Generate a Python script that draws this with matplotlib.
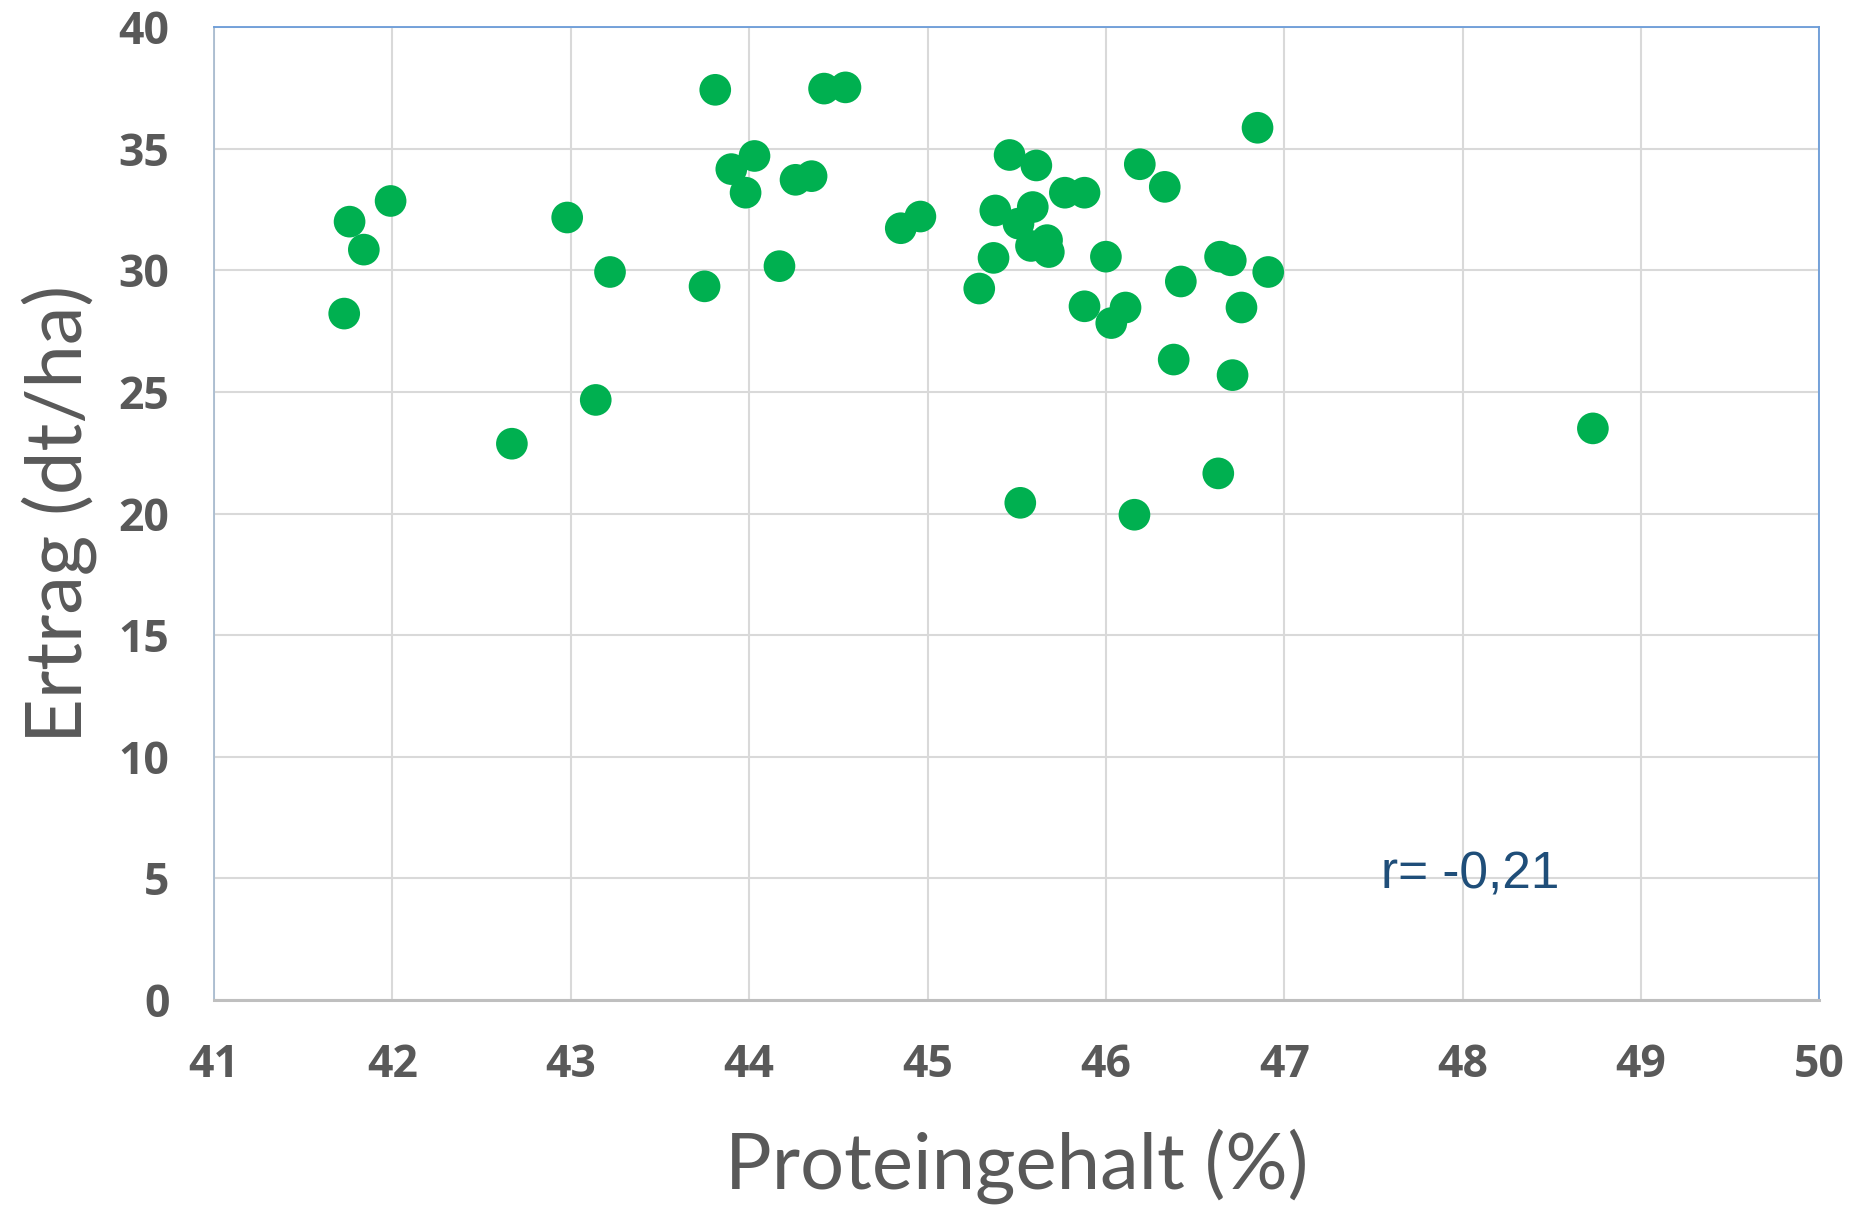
import matplotlib.pyplot as plt

# Proteingehalt (%) und Ertrag (dt/ha)
protein = [41.73, 41.76, 41.84, 41.99, 42.67, 42.98, 43.14, 43.22, 43.75, 43.81,
           43.90, 43.98, 44.03, 44.17, 44.26, 44.35, 44.42, 44.54, 44.85, 44.96,
           45.29, 45.37, 45.38, 45.46, 45.52, 45.51, 45.59, 45.58, 45.61, 45.67,
           45.68, 45.77, 45.88, 45.88, 46.00, 46.03, 46.11, 46.16, 46.19, 46.33,
           46.38, 46.42, 46.63, 46.64, 46.70, 46.71, 46.76, 46.85, 46.91, 48.73]
ertrag = [28.22, 32.00, 30.85, 32.85, 22.87, 32.17, 24.67, 29.93, 29.34, 37.42,
          34.16, 33.19, 34.70, 30.17, 33.72, 33.87, 37.47, 37.52, 31.73, 32.21,
          29.25, 30.51, 32.46, 34.74, 20.44, 31.92, 32.60, 31.00, 34.31, 31.24,
          30.75, 33.19, 33.19, 28.52, 30.56, 27.83, 28.47, 19.95, 34.36, 33.43,
          26.33, 29.54, 21.65, 30.56, 30.41, 25.69, 28.47, 35.86, 29.93, 23.50]

x_ticks = list(range(41, 51))
y_ticks = list(range(0, 41, 5))
r_text = 'r= -0,21'

fig = plt.figure(figsize=(18.56, 12.08), dpi=100)
ax = fig.add_axes([0.1153, 0.1722, 0.865, 0.8054])

ax.scatter(protein, ertrag, s=520, color='#00B050', edgecolors='none', zorder=3)

ax.set_xlim(41, 50)
ax.set_ylim(0, 40)
ax.set_xticks(x_ticks)
ax.set_yticks(y_ticks)
ax.grid(True, color='#D9D9D9', linewidth=1.5, zorder=0)
ax.set_axisbelow(True)

for lab in ax.get_xticklabels() + ax.get_yticklabels():
    lab.set_fontfamily('Open Sans')
    lab.set_fontweight('bold')
    lab.set_fontsize(32)
    lab.set_color('#595959')
ax.tick_params(axis='both', length=0)
ax.tick_params(axis='y', pad=32)
ax.tick_params(axis='x', pad=31)

ax.spines['top'].set_color('#6A9BD8')
ax.spines['right'].set_color('#6A9BD8')
ax.spines['left'].set_color('#A9BCD0')
ax.spines['bottom'].set_color('#BFBFBF')
ax.spines['bottom'].set_linewidth(2.2)
for s in ['top', 'right', 'left']:
    ax.spines[s].set_linewidth(1.3)

ax.set_ylabel('Ertrag (dt/ha)', fontfamily='Lato', fontsize=56, color='#595959', va='center')
ax.yaxis.set_label_coords(-0.0966, 0.5)
ax.set_xlabel('Proteingehalt (%)', fontfamily='Lato', fontsize=56, color='#595959', va='center')
ax.xaxis.set_label_coords(0.5, -0.1706)

ax.text(47.54, 4.6, r_text, fontfamily='Liberation Sans', fontsize=37,
        color='#1F4E79', va='baseline', ha='left')

fig.savefig('out.png', dpi=100)
